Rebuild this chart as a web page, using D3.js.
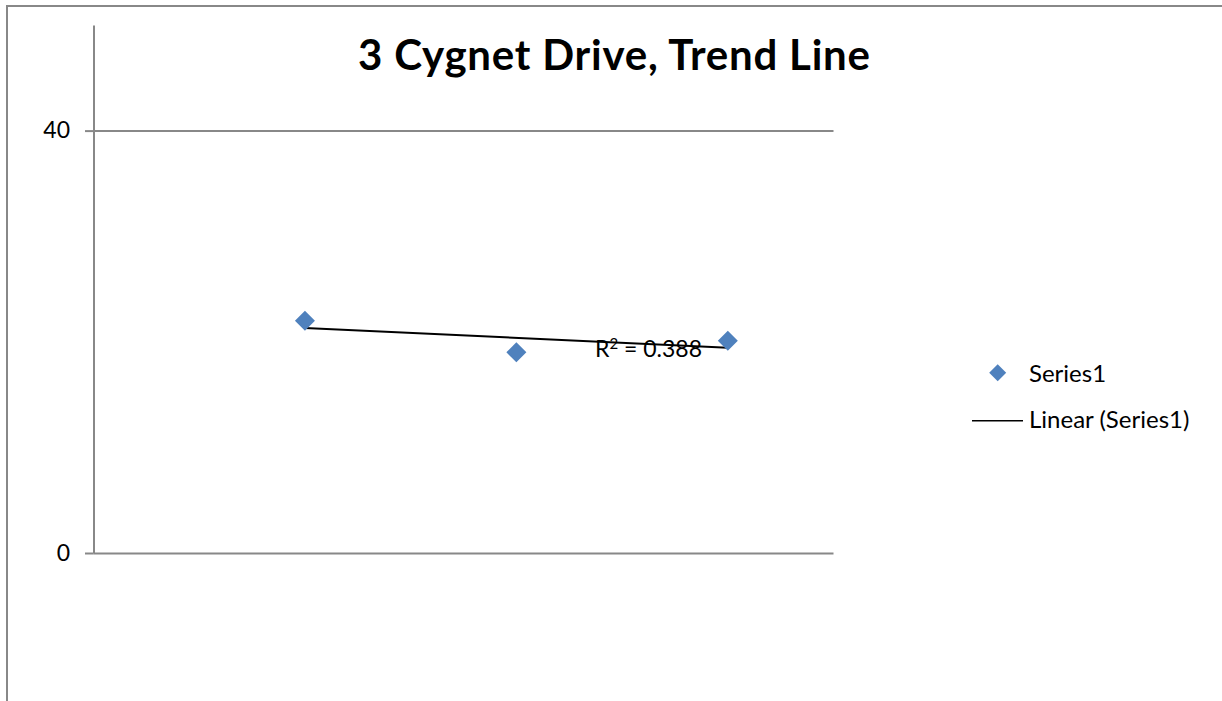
<!DOCTYPE html>
<html>
<head>
<meta charset="utf-8">
<script src="https://cdn.jsdelivr.net/npm/d3@7"></script>
<style>
  html, body { margin: 0; padding: 0; background: #fff; }
  svg { display: block; font-family: Lato, "Open Sans", sans-serif; }
</style>
</head>
<body>
<svg id="chart" width="1222" height="701"></svg>
<script>
// Readings at 3 Cygnet Drive
const titleText = "3 Cygnet Drive, Trend Line";
const xValues = [1, 2, 3];
const seriesValues = [22, 19, 20.11];
const yTicks = [0, 40];
const seriesName = "Series1";
const trendName = "Linear (Series1)";

const svg = d3.select("#chart");
const gridColor = "#888888";
const pointColor = "#4F81BD";

// chart frame (top and left edges)
svg.append("path")
  .attr("d", "M7,701 V6 H1222")
  .attr("fill", "none")
  .attr("stroke", gridColor)
  .attr("stroke-width", 2);

const x = d3.scaleLinear().domain([0, 3.5]).range([93.5, 833.5]);
const y = d3.scaleLinear().domain([0, 50]).range([553, 25]);

// horizontal gridlines
svg.append("g")
  .attr("transform", `translate(${x(0)},0)`)
  .call(d3.axisLeft(y).tickValues(yTicks).tickSize(-(x(3.5) - x(0))).tickSizeOuter(0).tickFormat(""))
  .call(g => g.select(".domain").remove())
  .call(g => g.selectAll("line").attr("stroke", gridColor).attr("stroke-width", 2));

// vertical axis with outside ticks
svg.append("g")
  .attr("transform", `translate(${x(0)},0)`)
  .call(d3.axisLeft(y).tickValues(yTicks).tickSize(8.5).tickSizeOuter(0).tickPadding(15))
  .call(g => g.select(".domain").attr("stroke", gridColor).attr("stroke-width", 2))
  .call(g => g.selectAll("line").attr("stroke", gridColor).attr("stroke-width", 2))
  .call(g => g.selectAll("text")
    .attr("fill", "#000")
    .style("font-family", "Lato, sans-serif")
    .style("font-size", "23px"));

// least-squares trend line
const mx = d3.mean(xValues), my = d3.mean(seriesValues);
const sxy = d3.sum(xValues, (v, i) => (v - mx) * (seriesValues[i] - my));
const sxx = d3.sum(xValues, v => (v - mx) ** 2);
const slope = sxy / sxx;
const intercept = my - slope * mx;
const fit = v => intercept + slope * v;
const ssTot = d3.sum(seriesValues, v => (v - my) ** 2);
const ssRes = d3.sum(xValues, (v, i) => (seriesValues[i] - fit(v)) ** 2);
const r2 = 1 - ssRes / ssTot;

const xMin = d3.min(xValues), xMax = d3.max(xValues);
svg.append("line")
  .attr("x1", x(xMin)).attr("y1", y(fit(xMin)))
  .attr("x2", x(xMax)).attr("y2", y(fit(xMax)))
  .attr("stroke", "#000")
  .attr("stroke-width", 2);

// data markers (diamonds)
const diamond = d3.symbol().type(d3.symbolSquare).size(200);
svg.append("g")
  .selectAll("path")
  .data(xValues.map((v, i) => [v, seriesValues[i]]))
  .join("path")
  .attr("d", diamond)
  .attr("transform", d => `translate(${x(d[0])},${y(d[1])}) rotate(45)`)
  .attr("fill", pointColor);

// R² label
const r2Label = svg.append("text")
  .attr("x", 595)
  .attr("y", 357)
  .style("font-size", "23px")
  .attr("fill", "#000");
r2Label.append("tspan").text("R");
r2Label.append("tspan").attr("dy", -8).style("font-size", "15px").text("2");
r2Label.append("tspan").attr("dy", 8).text(` = ${r2.toFixed(3)}`);

// title
svg.append("text")
  .attr("x", 614)
  .attr("y", 70)
  .attr("text-anchor", "middle")
  .attr("textLength", 512)
  .attr("lengthAdjust", "spacing")
  .style("font-size", "42px")
  .style("font-weight", "bold")
  .attr("fill", "#000")
  .text(titleText);

// legend
const legend = svg.append("g");
legend.append("path")
  .attr("d", d3.symbol().type(d3.symbolSquare).size(144))
  .attr("transform", "translate(997.7,372.7) rotate(45)")
  .attr("fill", pointColor);
legend.append("text")
  .attr("x", 1029).attr("y", 381.5)
  .style("font-size", "24px")
  .attr("fill", "#000")
  .text(seriesName);
legend.append("line")
  .attr("x1", 972).attr("x2", 1023)
  .attr("y1", 420.7).attr("y2", 420.7)
  .attr("stroke", "#000")
  .attr("stroke-width", 1.5);
legend.append("text")
  .attr("x", 1029).attr("y", 428)
  .style("font-size", "24px")
  .attr("fill", "#000")
  .text(trendName);
</script>
</body>
</html>
